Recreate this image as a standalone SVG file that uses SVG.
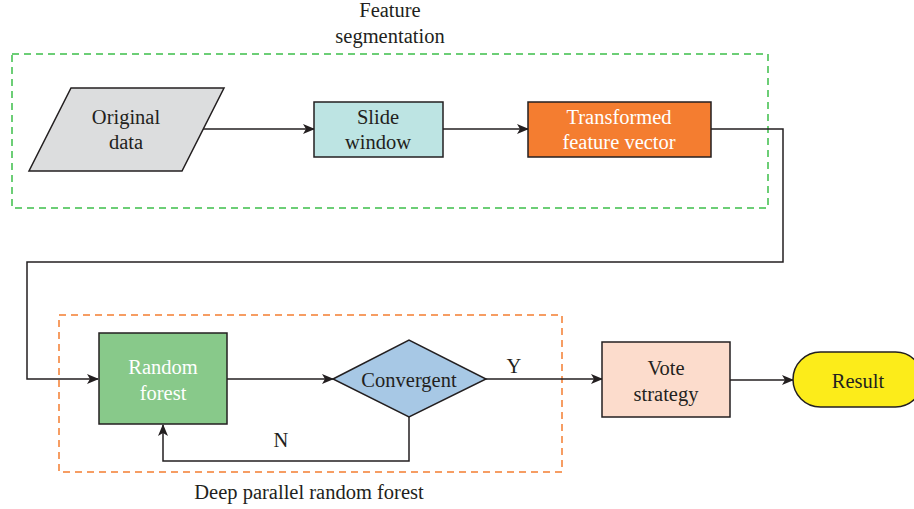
<svg xmlns="http://www.w3.org/2000/svg" width="914" height="509" viewBox="0 0 914 509">
<defs>
<style>
text{font-family:"Liberation Serif","DejaVu Serif",serif;font-size:20.5px;fill:#231F20;text-anchor:middle}
.w{fill:#FFFFFF}
.node{stroke:#231F20;stroke-width:1.5}
.conn{fill:none;stroke:#231F20;stroke-width:1.5}
</style>
<marker id="ah" markerWidth="12" markerHeight="10" refX="11" refY="5" orient="auto" markerUnits="userSpaceOnUse">
<path d="M0,0 L12,5 L0,10 L3,5 Z" fill="#231F20"/>
</marker>
</defs>
<rect width="914" height="509" fill="#FFFFFF"/>
<g id="group-feature">
<rect x="12" y="54" width="756" height="154" fill="none" stroke="#3DBE4A" stroke-width="1.5" stroke-dasharray="7,5"/>
<text x="390" y="17">Feature</text>
<text x="390" y="43">segmentation</text>
</g>
<g id="group-forest">
<rect x="59" y="315" width="503" height="157" fill="none" stroke="#F47D30" stroke-width="1.5" stroke-dasharray="7,5"/>
<text x="309" y="499">Deep parallel random forest</text>
</g>
<g id="connectors">
<line class="conn" x1="203" y1="129" x2="314" y2="129" marker-end="url(#ah)"/>
<line class="conn" x1="443" y1="129" x2="528" y2="129" marker-end="url(#ah)"/>
<polyline class="conn" points="711,129 783,129 783,262 27,262 27,379 98,379" marker-end="url(#ah)"/>
<line class="conn" x1="227" y1="379" x2="333" y2="379" marker-end="url(#ah)"/>
<polyline class="conn" points="409,417 409,461 163,461 163,425" marker-end="url(#ah)"/>
<line class="conn" x1="486" y1="379" x2="602" y2="379" marker-end="url(#ah)"/>
<line class="conn" x1="730" y1="380" x2="793" y2="380" marker-end="url(#ah)"/>
<text x="281" y="447">N</text>
<text x="514" y="373">Y</text>
</g>
<g id="original-data">
<polygon class="node" points="71,88 224,88 182,171 29,171" fill="#DCDDDE"/>
<text x="126" y="124">Original</text>
<text x="126" y="149">data</text>
</g>
<g id="slide-window">
<rect class="node" x="314" y="102" width="129" height="55" fill="#BDE4E3"/>
<text x="378" y="124">Slide</text>
<text x="378" y="149">window</text>
</g>
<g id="transformed">
<rect class="node" x="528" y="102" width="183" height="55" fill="#F47D30"/>
<text class="w" x="619" y="124">Transformed</text>
<text class="w" x="619" y="149">feature vector</text>
</g>
<g id="random-forest">
<rect class="node" x="99" y="333" width="128" height="91" fill="#88C98A"/>
<text class="w" x="163" y="374">Random</text>
<text class="w" x="163" y="400">forest</text>
</g>
<g id="convergent">
<polygon class="node" points="333,379 409,340 486,379 409,417" fill="#A7C8E5"/>
<text x="409" y="387">Convergent</text>
</g>
<g id="vote-strategy">
<rect class="node" x="602" y="342" width="128" height="75" fill="#FCDCCC"/>
<text x="666" y="375">Vote</text>
<text x="666" y="401">strategy</text>
</g>
<g id="result">
<rect class="node" x="793" y="352" width="130" height="55" rx="27.5" ry="27.5" fill="#FCEC1A"/>
<text x="858" y="388">Result</text>
</g>
</svg>
